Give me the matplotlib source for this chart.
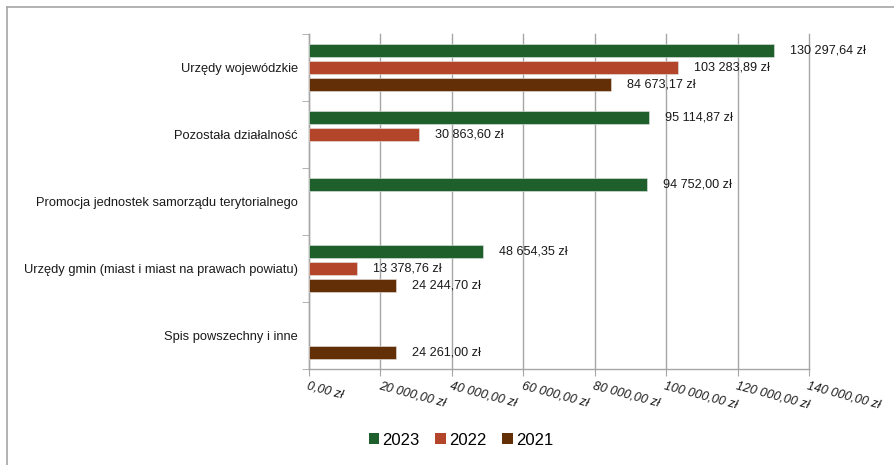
import numpy as np
import matplotlib.pyplot as plt
from matplotlib.lines import Line2D
from matplotlib.patches import Patch

plt.rcParams['font.family'] = ['Liberation Sans', 'DejaVu Sans']

categories = [
    'Urzędy wojewódzkie',
    'Pozostała działalność',
    'Promocja jednostek samorządu terytorialnego',
    'Urzędy gmin (miast i miast na prawach powiatu)',
    'Spis powszechny i inne',
]
years = ['2023', '2022', '2021']
# None = no spending in that year
v2023 = [130297.64, 95114.87, 94752.00, 48654.35, None]
v2022 = [103283.89, 30863.60, None, 13378.76, None]
v2021 = [84673.17, None, None, 24244.70, 24261.00]
colors = ['#1e5f2b', '#b2452a', '#632f07']
xticks = np.arange(0, 140001, 20000)


def pln(v):
    s = f'{v:,.2f}'
    return s.replace(',', ' ').replace('.', ',') + ' zł'


fig = plt.figure(figsize=(8.94, 4.65), dpi=100)
ax = fig.add_axes([309 / 894, 1 - 369 / 465, 500 / 894, 335 / 465])

grid_c = '#a6a6a6'
y = np.arange(len(categories))
offsets = [-0.254, 0.0, 0.254]
bar_h = 0.187

for series, off, col in zip([v2023, v2022, v2021], offsets, colors):
    for i, v in enumerate(series):
        if v is None:
            continue
        ax.barh(y[i] + off, v, height=bar_h, color=col,
                edgecolor='#e6e6e6', linewidth=0.4, zorder=3)
        ax.text(v + 4500, y[i] + off, pln(v), va='center', ha='left',
                fontsize=9.1, color='#1a1a1a', zorder=4)

ax.set_xlim(0, 140000)
ax.set_ylim(len(categories) - 0.5, -0.5)

ax.set_xticks(xticks)
ax.set_xticklabels([pln(t) for t in xticks], rotation=-15, rotation_mode='anchor',
                   ha='left', va='top', fontsize=9, style='italic', color='#1a1a1a')
ax.tick_params(axis='x', length=5, color=grid_c, pad=3)

ax.set_yticks(y)
ax.set_yticklabels(categories, fontsize=9.3, color='#1a1a1a')
ax.set_yticks(np.arange(len(categories) + 1) - 0.5, minor=True)
ax.tick_params(axis='y', which='major', length=0, pad=8)
ax.tick_params(axis='y', which='minor', length=5, color=grid_c)

ax.grid(axis='x', color=grid_c, linewidth=1, zorder=0)
# keep the last gridline at full width on the axes edge
for gl in ax.get_xgridlines():
    gl.set_clip_on(False)
for side in ['top', 'right']:
    ax.spines[side].set_visible(False)
for side in ['left', 'bottom']:
    ax.spines[side].set_color(grid_c)
    ax.spines[side].set_linewidth(1)

handles = [Patch(facecolor=c, edgecolor='none') for c in colors]
fig.legend(handles, years, loc='center', bbox_to_anchor=(461 / 894, 1 - 440 / 465),
           ncol=3, frameon=False, fontsize=12, handlelength=0.62, handleheight=0.62,
           handletextpad=0.2, columnspacing=0.95)

# outer chart border (left and top edges)
fig.add_artist(Line2D([7 / 894, 7 / 894], [0, 1 - 7 / 465], color='#a6a6a6', lw=1.2,
                      transform=fig.transFigure))
fig.add_artist(Line2D([7 / 894, 1], [1 - 7 / 465, 1 - 7 / 465], color='#a6a6a6', lw=1.2,
                      transform=fig.transFigure))

fig.savefig('out.png', dpi=100)
